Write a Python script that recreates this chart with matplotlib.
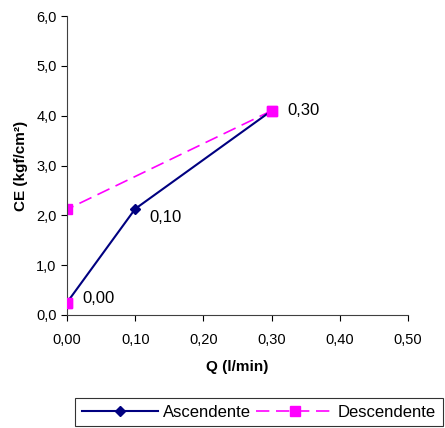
import numpy as np
import matplotlib
matplotlib.use("Agg")
import matplotlib.pyplot as plt

plt.rcParams['font.family'] = ['Liberation Sans', 'DejaVu Sans']

# data
asc_q = [0.00, 0.10, 0.30]
asc_ce = [0.25, 2.13, 4.10]
desc_q = [0.30, 0.00, 0.00]
desc_ce = [4.10, 2.12, 0.25]
point_labels = ["0,00", "0,10", "0,30"]
x_ticks = [0.0, 0.1, 0.2, 0.3, 0.4, 0.5]
y_ticks = [0.0, 1.0, 2.0, 3.0, 4.0, 5.0, 6.0]

fig = plt.figure(figsize=(4.45, 4.28), dpi=100)
ax = fig.add_axes([67/445, 1-315/428, (408-67)/445, (315-16)/428])

l1, = ax.plot(asc_q, asc_ce, color="#000080", lw=1.5, marker="D", ms=5,
              label="Ascendente", zorder=3)
l2, = ax.plot(desc_q, desc_ce, color="#FF00FF", lw=1.2, ls=(0, (8, 4)),
              marker="s", ms=7, label="Descendente", zorder=2)
# pink squares drawn over the navy line where they overlap
ax.plot(desc_q[0:1] + desc_q[2:], desc_ce[0:1] + desc_ce[2:], ls="none",
        marker="s", ms=7, color="#FF00FF", zorder=4)

offsets = [(11, 3), (10, -6), (11, 0)]
for q, ce, lab, off in zip(asc_q, asc_ce, point_labels, offsets):
    ax.annotate(lab, xy=(q, ce), xytext=off, textcoords="offset points",
                fontsize=12, va="center", ha="left")

ax.set_xlim(0, 0.5)
ax.set_ylim(0, 6)
ax.set_xticks(x_ticks)
ax.set_yticks(y_ticks)
ax.set_xticklabels([f"{v:.2f}".replace(".", ",") for v in x_ticks], fontsize=10.5)
ax.set_yticklabels([f"{v:.1f}".replace(".", ",") for v in y_ticks], fontsize=10.5)
ax.tick_params(direction="out", length=4, width=0.8, colors="black")
ax.tick_params(axis="x", pad=9)
ax.spines["top"].set_visible(False)
ax.spines["right"].set_visible(False)
ax.spines["left"].set_color("#404040")
ax.spines["bottom"].set_color("#404040")

ax.set_xlabel("Q (l/min)", fontsize=11, fontweight="bold", labelpad=9)
ax.set_ylabel("CE (kgf/cm²)", fontsize=11, fontweight="bold", labelpad=6)

leg = fig.legend(handles=[l1, l2], loc="upper left",
                 bbox_to_anchor=(75/445, 1-398/428), ncol=2, fontsize=12,
                 frameon=True, fancybox=False, handlelength=4.6,
                 columnspacing=0.3, handletextpad=0.3, borderaxespad=0,
                 borderpad=0.4)
leg.get_frame().set_edgecolor("black")
leg.get_frame().set_linewidth(0.8)

fig.savefig("out.png", dpi=100)
